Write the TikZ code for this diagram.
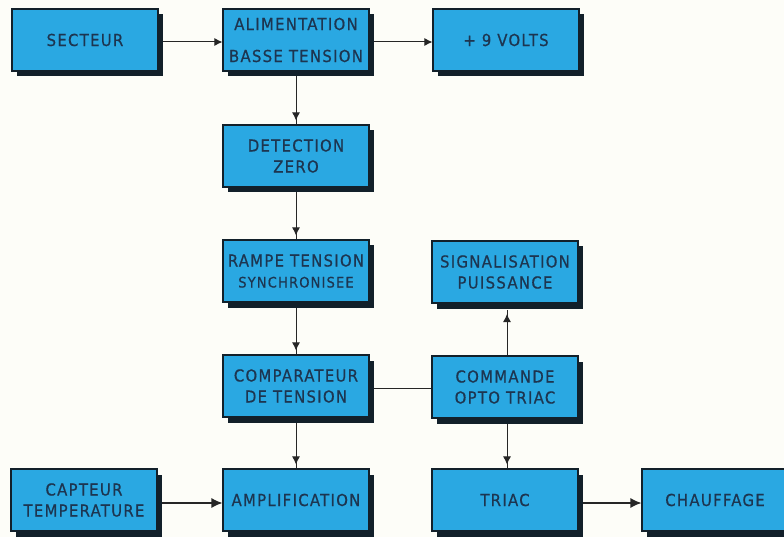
\documentclass[tikz,border=0pt]{standalone}
\usepackage{fontspec}
\newfontfamily\letfont[LetterSpace=8,FakeBold=0.6]{DejaVu Sans Condensed}
\usetikzlibrary{shadows,arrows.meta,decorations.markings,backgrounds}
\definecolor{bluefill}{HTML}{2AA8E2}
\definecolor{inkblue}{HTML}{1D3550}
\definecolor{shadowc}{HTML}{12202A}
\definecolor{paper}{HTML}{FDFDF8}
\tikzset{
  blk/.style={rectangle, fill=bluefill, draw=shadowc, line width=1.1pt,
    minimum width=146pt, minimum height=62pt, inner sep=0pt,
    align=center, text=inkblue,
    font=\letfont\fontsize{16.5}{21}\selectfont,
    general shadow={fill=shadowc, shadow xshift=4.5pt, shadow yshift=-5.5pt}},
  conn/.style={draw=black!85, line width=1pt},
  midtip/.style={conn, postaction={decorate},
    decoration={markings, mark=at position -4pt with {\arrow[black!85]{Latex[length=8pt,width=8pt]}}}},
  bigtip/.style={conn, line width=1.2pt, -{Latex[length=11pt,width=10pt]}},
  smalltip/.style={conn, -{Latex[length=8pt,width=8pt]}}
}
\begin{document}
\begin{tikzpicture}[x=1pt,y=-1pt]
\useasboundingbox (0,0) rectangle (784,537);
\node[blk] (sect) at (85,40) {SECTEUR};
\node[blk, font=\letfont\fontsize{16.5}{32}\selectfont] (alim) at (296,40) {ALIMENTATION\\BASSE TENSION};
\node[blk] (volts) at (506,40) {+ 9 VOLTS};
\node[blk] (det) at (296,156) {DETECTION\\ZERO};
\node[blk] (rampe) at (296,271) {RAMPE TENSION\\{\fontsize{14.5}{21}\selectfont SYNCHRONISEE}};
\node[blk] (sign) at (505,272) {SIGNALISATION\\PUISSANCE};
\node[blk] (comp) at (296,386) {COMPARATEUR\\DE TENSION};
\node[blk] (cmd) at (505,387) {COMMANDE\\OPTO TRIAC};
\node[blk] (capt) at (84,500) {CAPTEUR\\TEMPERATURE};
\node[blk] (ampl) at (296,500) {AMPLIFICATION};
\node[blk] (triac) at (505,500) {TRIAC};
\node[blk] (chauf) at (715,500) {CHAUFFAGE};
\begin{pgfonlayer}{background}
\fill[paper] (0,0) rectangle (784,537);
\draw[smalltip] (sect.east |- 0,42) -- (alim.west |- 0,42);
\draw[smalltip] (alim.east |- 0,42) -- (volts.west |- 0,42);
\draw[midtip] (alim.south) -- (det.north);
\draw[midtip] (det.south) -- (rampe.north);
\draw[midtip] (rampe.south) -- (comp.north);
\draw[midtip] (comp.south) -- (ampl.north);
\draw[conn] (comp.east |- 0,388) -- (cmd.west |- 0,388);
\draw[midtip] ([xshift=2pt]cmd.north) -- ([xshift=2pt]sign.south |- 0,310);
\draw[midtip] ([xshift=2pt]cmd.south) -- ([xshift=2pt]triac.north);
\draw[bigtip] (capt.east |- 0,503) -- (ampl.west |- 0,503);
\draw[bigtip] (triac.east |- 0,503) -- (chauf.west |- 0,503);
\end{pgfonlayer}
\end{tikzpicture}
\end{document}
